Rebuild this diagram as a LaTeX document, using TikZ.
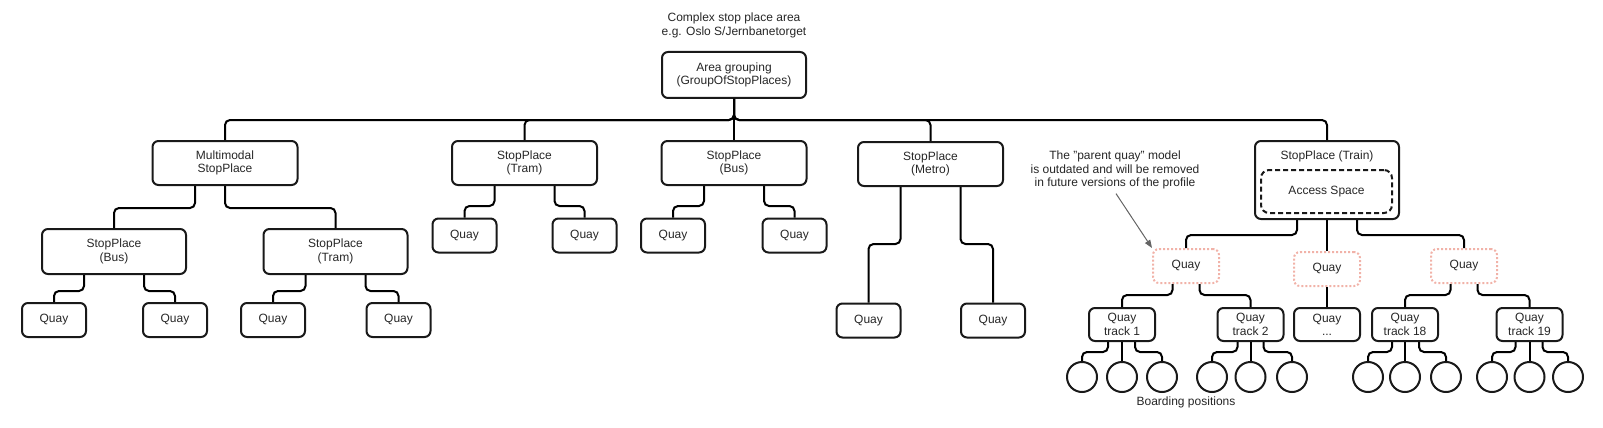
\documentclass[tikz,border=0pt]{standalone}
\usepackage{fontspec}
\setmainfont{Liberation Sans}
\usetikzlibrary{calc,arrows.meta}
\definecolor{dotc}{RGB}{241,178,168}
\definecolor{notec}{RGB}{100,100,100}
\begin{document}
\begin{tikzpicture}[x=0.75pt,y=-0.75pt,
  every node/.style={font=\fontsize{9}{10}\selectfont, text=black!85},
  txt/.style={align=center},
  box/.style={draw=black!90, line width=1.5pt, rounded corners=4.5pt, align=center, inner sep=0pt},
  lone/.style={box, minimum width=108.75pt, minimum height=33pt},
  ltwo/.style={box, minimum width=108pt, minimum height=33.75pt},
  quay/.style={box, minimum width=48pt, minimum height=25.5pt},
  qtrack/.style={box, minimum width=49.5pt, minimum height=24.75pt},
  dquay/.style={draw=dotc, line width=1.5pt, dash pattern=on 1.5pt off 1.5pt, rounded corners=4.5pt, minimum width=49.5pt, minimum height=25.5pt, inner sep=0pt, align=center},
  accbox/.style={draw=black!90, line width=1.5pt, dash pattern=on 3.75pt off 2.25pt, rounded corners=6pt, minimum width=98.25pt, minimum height=32.25pt, inner sep=0pt},
  bpos/.style={circle, draw=black!90, line width=1.5pt, minimum size=22.5pt, inner sep=0pt},
  conn/.style={draw=black, line width=1.5pt, rounded corners=3.75pt},
  notearrow/.style={draw=notec, line width=0.75pt, -{Triangle[length=6pt,width=4.5pt]}}
]
\useasboundingbox (0,0) rectangle (1603,428);

% texts
\node[txt] (title) at (734,25.5) {Complex stop place area\\e.g. Oslo S/Jernbanetorget};
\node[txt] (note) at (1115,170) {The "parent quay" model\\is outdated and will be removed\\in future versions of the profile};
\node[txt] (bptext) at (1186,402) {Boarding positions};

% root
\node[box, minimum width=108pt, minimum height=34.5pt] (ag) at (734,75) {Area grouping\\(GroupOfStopPlaces)};

% level 1
\node[lone] (mm) at (225,163) {Multimodal\\StopPlace};
\node[lone] (spt1) at (524.5,163) {StopPlace\\(Tram)};
\node[lone] (spb1) at (734,163) {StopPlace\\(Bus)};
\node[lone] (spm) at (930.5,164) {StopPlace\\(Metro)};
\node[box, minimum width=108pt, minimum height=58.5pt] (train) at (1327,180) {};
\node[txt] (traintitle) at (1327,156) {StopPlace (Train)};
\node[accbox] (access) at (1326.5,191.5) {Access Space};

% level 2
\node[ltwo] (spb2) at (114,251.5) {StopPlace\\(Bus)};
\node[ltwo] (spt2) at (335.5,251.5) {StopPlace\\(Tram)};

% quays
\node[quay] (q1) at (54,320) {Quay};
\node[quay] (q2) at (175,320) {Quay};
\node[quay] (q3) at (273,320) {Quay};
\node[quay] (q4) at (398.5,320) {Quay};
\node[quay] (q5) at (464.5,235.5) {Quay};
\node[quay] (q6) at (584.5,235.5) {Quay};
\node[quay] (q7) at (673,235.5) {Quay};
\node[quay] (q8) at (794.5,235.5) {Quay};
\node[quay] (q9) at (868.5,320.5) {Quay};
\node[quay] (q10) at (993,320.5) {Quay};

% parent quays
\node[dquay] (dqa) at (1186,266) {Quay};
\node[dquay] (dqb) at (1327,269) {Quay};
\node[dquay] (dqc) at (1464,266) {Quay};

% quay tracks
\node[qtrack] (qt1) at (1122,324.5) {Quay\\track 1};
\node[qtrack] (qt2) at (1250.5,324.5) {Quay\\track 2};
\node[qtrack] (qtd) at (1327,324.5) {Quay\\...};
\node[qtrack] (qt18) at (1405,324.5) {Quay\\track 18};
\node[qtrack] (qt19) at (1529.5,324.5) {Quay\\track 19};

% boarding positions
\node[bpos] (c1a) at (1082,377) {};
\node[bpos] (c1b) at (1122,377) {};
\node[bpos] (c1c) at (1162,377) {};
\node[bpos] (c2a) at (1212,377) {};
\node[bpos] (c2b) at (1250.5,377) {};
\node[bpos] (c2c) at (1292,377) {};
\node[bpos] (c3a) at (1368,377) {};
\node[bpos] (c3b) at (1405,377) {};
\node[bpos] (c3c) at (1446,377) {};
\node[bpos] (c4a) at (1492,377) {};
\node[bpos] (c4b) at (1529.5,377) {};
\node[bpos] (c4c) at (1568,377) {};

% connectors from root
\draw[conn] (ag.south) -- ++(0,21) -| (mm.north);
\draw[conn] (ag.south) -- ++(0,21) -| (spt1.north);
\draw[conn] (ag.south) -- (spb1.north);
\draw[conn] (ag.south) -- ++(0,21) -| (spm.north);
\draw[conn] (ag.south) -- ++(0,21) -| (train.north);

% multimodal
\draw[conn] ($(mm.south)+(-30,0)$) -- ++(0,22) -| (spb2.north);
\draw[conn] (mm.south) -- ++(0,22) -| (spt2.north);

% level 2 to quays
\draw[conn] ($(spb2.south)+(-30,0)$) -- ++(0,16) -| (q1.north);
\draw[conn] ($(spb2.south)+(30,0)$) -- ++(0,16) -| (q2.north);
\draw[conn] ($(spt2.south)+(-30,0)$) -- ++(0,16) -| (q3.north);
\draw[conn] ($(spt2.south)+(30,0)$) -- ++(0,16) -| (q4.north);

% level 1 to quays
\draw[conn] ($(spt1.south)+(-30,0)$) -- ++(0,20) -| (q5.north);
\draw[conn] ($(spt1.south)+(30,0)$) -- ++(0,20) -| (q6.north);
\draw[conn] ($(spb1.south)+(-30,0)$) -- ++(0,20) -| (q7.north);
\draw[conn] ($(spb1.south)+(30,0)$) -- ++(0,20) -| (q8.north);
\draw[conn] ($(spm.south)+(-30,0)$) -- ++(0,57) -| (q9.north);
\draw[conn] ($(spm.south)+(30,0)$) -- ++(0,57) -| (q10.north);

% train
\draw[conn] ($(train.south)+(-30,0)$) -- ++(0,15) -| (dqa.north);
\draw[conn] (train.south) -- (dqb.north);
\draw[conn] ($(train.south)+(30,0)$) -- ++(0,15) -| (dqc.north);

% parent quays to tracks
\draw[conn] ($(dqa.south)+(-13.5,0)$) -- ++(0,11) -| (qt1.north);
\draw[conn] ($(dqa.south)+(13.5,0)$) -- ++(0,11) -| (qt2.north);
\draw[conn] (dqb.south) -- (qtd.north);
\draw[conn] ($(dqc.south)+(-13.5,0)$) -- ++(0,11) -| (qt18.north);
\draw[conn] ($(dqc.south)+(13.5,0)$) -- ++(0,11) -| (qt19.north);

% tracks to boarding positions
\draw[conn] ($(qt1.south)+(-14,0)$) -- ++(0,10) -| (c1a.north);
\draw[conn] (qt1.south) -- (c1b.north);
\draw[conn] ($(qt1.south)+(13,0)$) -- ++(0,10) -| (c1c.north);
\draw[conn] ($(qt2.south)+(-13,0)$) -- ++(0,10) -| (c2a.north);
\draw[conn] (qt2.south) -- (c2b.north);
\draw[conn] ($(qt2.south)+(13,0)$) -- ++(0,10) -| (c2c.north);
\draw[conn] ($(qt18.south)+(-13,0)$) -- ++(0,10) -| (c3a.north);
\draw[conn] (qt18.south) -- (c3b.north);
\draw[conn] ($(qt18.south)+(14,0)$) -- ++(0,10) -| (c3c.north);
\draw[conn] ($(qt19.south)+(-14,0)$) -- ++(0,10) -| (c4a.north);
\draw[conn] (qt19.south) -- (c4b.north);
\draw[conn] ($(qt19.south)+(13,0)$) -- ++(0,10) -| (c4c.north);

% annotation arrow
\draw[notearrow] ($(note.south)+(1,0)$) -- (dqa.north west);
\end{tikzpicture}
\end{document}
